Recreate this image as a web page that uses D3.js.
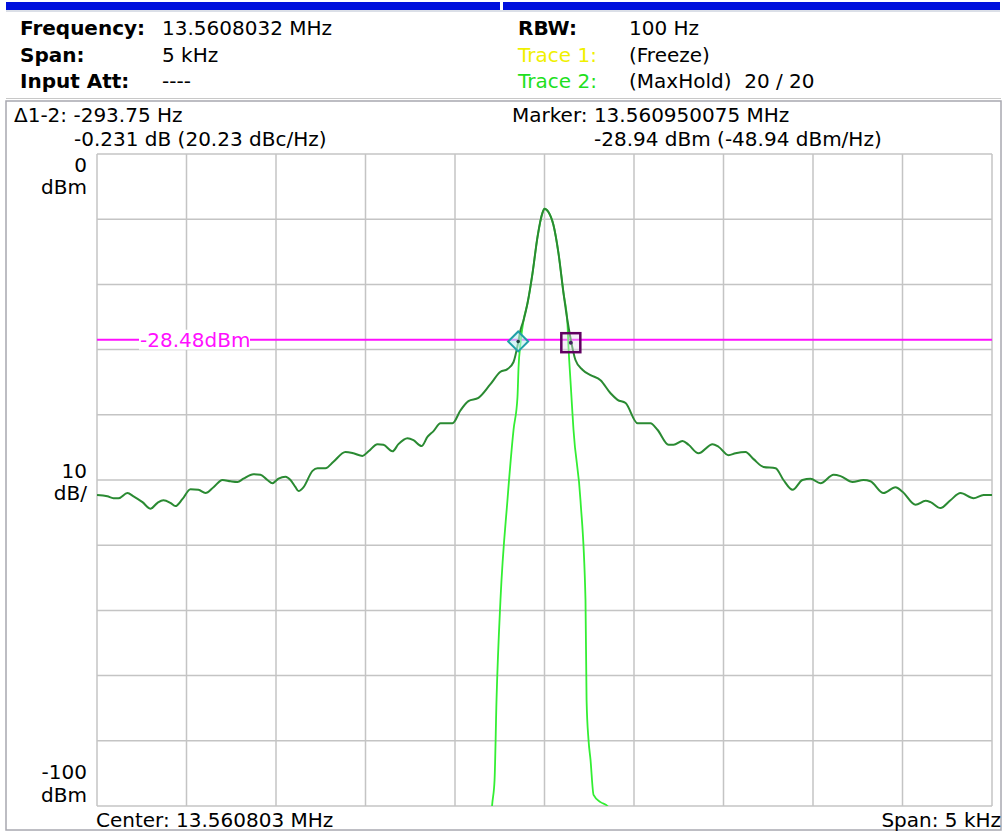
<!DOCTYPE html>
<html>
<head>
<meta charset="utf-8">
<script src="https://cdn.jsdelivr.net/npm/d3@7"></script>
<style>
  html, body { margin: 0; padding: 0; background: #fff; }
  svg { display: block; font-family: "DejaVu Sans", Verdana, sans-serif; }
  text { white-space: pre; }
</style>
</head>
<body>
<svg width="1002" height="833"></svg>
<script>
const darkFreq = [-2500,-2442,-2408,-2380,-2330,-2296,-2246,-2201,-2162,-2129,-2090,-2062,-2022,-1978,-1933,-1894,-1849,-1799,-1754,-1715,-1682,-1626,-1587,-1548,-1520,-1486,-1447,-1419,-1391,-1374,-1346,-1296,-1268,-1224,-1179,-1112,-1067,-1017,-983,-933,-900,-849,-816,-765,-732,-687,-654,-620,-581,-514,-469,-425,-369,-302,-246,-207,-173,-147,-134,-117,-95,-67,-39,-11,0,22,50,78,106,128,145,173,212,257,313,369,408,453,520,592,631,693,721,771,805,860,939,972,1028,1067,1123,1168,1224,1291,1335,1386,1441,1486,1542,1615,1654,1721,1782,1821,1894,1961,2000,2073,2129,2157,2212,2268,2324,2397,2453,2500];
const darkLevel = [-52.3,-52.5,-52.8,-52.8,-52.0,-52.5,-53.4,-54.4,-53.5,-53.1,-53.5,-54.0,-52.9,-51.4,-51.5,-52.0,-51.1,-50.0,-50.2,-50.3,-49.8,-49.1,-49.2,-50.0,-50.5,-49.8,-49.5,-50.0,-51.1,-51.7,-51.1,-48.6,-48.2,-48.2,-47.2,-45.7,-45.9,-46.3,-45.6,-44.5,-44.6,-45.6,-44.5,-43.6,-43.9,-44.8,-43.4,-42.5,-41.3,-41.3,-39.3,-37.9,-37.4,-35.3,-33.4,-33.0,-31.9,-28.9,-27.0,-25.5,-22.9,-18.3,-12.7,-9.0,-8.4,-8.9,-10.9,-15.2,-21.3,-25.5,-28.2,-31.6,-33.1,-33.9,-34.7,-36.7,-37.7,-38.2,-41.3,-41.3,-42.3,-44.6,-44.6,-44.0,-44.6,-45.9,-44.5,-44.9,-46.2,-45.9,-45.7,-46.8,-48.0,-48.2,-50.0,-51.5,-50.0,-49.8,-50.5,-49.2,-49.4,-50.3,-50.0,-50.2,-52.0,-51.1,-51.8,-53.8,-53.2,-53.4,-54.3,-53.1,-52.0,-52.8,-52.3,-52.3];

const brightFreq = [-300,-293,-279,-268,-246,-207,-173,-151,-145,-134,-117,-95,-67,-39,-11,0,22,50,78,106,128,134,145,156,162,201,229,235,246,257,274,313,352,370];
const brightLevel = [-103,-100,-96.0,-83.7,-68.4,-53.1,-42.3,-37.3,-32.7,-29.0,-25.5,-22.9,-18.3,-12.7,-9.0,-8.4,-8.9,-10.9,-15.2,-21.3,-25.9,-29.6,-34.7,-39.7,-42.3,-53.1,-68.4,-83.7,-89.9,-92.9,-98.3,-99.4,-100,-103];

const xTicks = [-2500,-2000,-1500,-1000,-500,0,500,1000,1500,2000,2500];
const yTicks = [0,-10,-20,-30,-40,-50,-60,-70,-80,-90,-100];
const lineLevel = -28.48;
const markerFreq = [-147, 147];
const markerLevel = [-28.75, -28.94];

const headerLeft = [["Frequency:", "13.5608032 MHz"], ["Span:", "5 kHz"], ["Input Att:", "----"]];
const headerRight = [["RBW:", "100 Hz", "#000"], ["Trace 1:", "(Freeze)", "#f0f000"], ["Trace 2:", "(MaxHold)  20 / 20", "#1ee01e"]];

const svg = d3.select("svg");

// barra blu in alto
svg.append("rect").attr("x", 6).attr("y", 2).attr("width", 494).attr("height", 8).attr("fill", "#0010dd");
svg.append("rect").attr("x", 503).attr("y", 2).attr("width", 497).attr("height", 8).attr("fill", "#0010dd");
svg.append("line").attr("x1", 6).attr("x2", 1000).attr("y1", 11).attr("y2", 11).attr("stroke", "#b8c0d0");

// intestazione
headerLeft.forEach((r, i) => {
  const yy = 35 + i * 26.5;
  svg.append("text").attr("x", 20).attr("y", yy).attr("font-size", 20).attr("font-weight", "bold").text(r[0]);
  svg.append("text").attr("x", 162).attr("y", yy).attr("font-size", 20).text(r[1]);
});
headerRight.forEach((r, i) => {
  const yy = 35 + i * 26.5;
  svg.append("text").attr("x", 518).attr("y", yy).attr("font-size", 20)
    .attr("font-weight", i == 0 ? "bold" : "normal").attr("fill", r[2]).text(r[0]);
  svg.append("text").attr("x", 629).attr("y", yy).attr("font-size", 20).text(r[1]);
});

// cornice
svg.append("rect").attr("x", 6).attr("y", 101).attr("width", 995).attr("height", 729)
  .attr("fill", "none").attr("stroke", "#a8a8b0").attr("stroke-width", 1.5);
svg.append("line").attr("x1", 6).attr("x2", 1001).attr("y1", 98.5).attr("y2", 98.5).attr("stroke", "#c8c8c8");

// info marker
const info = [[14, 122, "\u03941-2: -293.75 Hz"], [74, 146, "-0.231 dB (20.23 dBc/Hz)"],
              [512, 122, "Marker: 13.560950075 MHz"], [594, 146, "-28.94 dBm (-48.94 dBm/Hz)"]];
info.forEach(t => svg.append("text").attr("x", t[0]).attr("y", t[1]).attr("font-size", 20).text(t[2]));

// scale
const x = d3.scaleLinear().domain([-2500, 2500]).range([97, 992]);
const y = d3.scaleLinear().domain([-100, 0]).range([806, 154]);

// griglia
const grid = svg.append("g").attr("stroke", "#c4c4c4").attr("stroke-width", 1.5);
grid.selectAll(".v").data(xTicks).join("line")
  .attr("x1", d => x(d)).attr("x2", d => x(d)).attr("y1", y(0)).attr("y2", y(-100));
grid.selectAll(".h").data(yTicks).join("line")
  .attr("y1", d => y(d)).attr("y2", d => y(d)).attr("x1", x(-2500)).attr("x2", x(2500));

// etichette asse y
const yl = [[172, "0"], [194, "dBm"], [478, "10"], [500, "dB/"], [779, "-100"], [802, "dBm"]];
yl.forEach(t => svg.append("text").attr("x", 87).attr("y", t[0]).attr("font-size", 20)
  .attr("text-anchor", "end").text(t[1]));
svg.append("text").attr("x", 96).attr("y", 827).attr("font-size", 20).text("Center: 13.560803 MHz");
svg.append("text").attr("x", 1001).attr("y", 827).attr("font-size", 20).attr("text-anchor", "end").text("Span: 5 kHz");

svg.append("clipPath").attr("id", "clip").append("rect")
  .attr("x", x(-2500)).attr("y", y(0)).attr("width", x(2500) - x(-2500)).attr("height", y(-100) - y(0));

const line = d3.line().x(d => x(d[0])).y(d => y(d[1])).curve(d3.curveMonotoneX);
const plot = svg.append("g").attr("clip-path", "url(#clip)");

// linea di soglia
plot.append("line").attr("x1", x(-2500)).attr("x2", x(2500)).attr("y1", y(lineLevel)).attr("y2", y(lineLevel))
  .attr("stroke", "#ff10ff").attr("stroke-width", 2);
plot.append("rect").attr("x", 139).attr("y", y(lineLevel) - 10).attr("width", 111).attr("height", 20).attr("fill", "#fff");
plot.append("text").attr("x", 140).attr("y", 347).attr("font-size", 20).attr("fill", "#ff10ff").text("-28.48dBm");

// tracce
plot.append("path").datum(d3.zip(brightFreq, brightLevel)).attr("d", line)
  .attr("fill", "none").attr("stroke", "#33ee33").attr("stroke-width", 1.8);
plot.append("path").datum(d3.zip(darkFreq, darkLevel)).attr("d", line)
  .attr("fill", "none").attr("stroke", "#2a8a32").attr("stroke-width", 2);

// marker
const m1x = x(markerFreq[0]), m1y = y(markerLevel[0]);
svg.append("path").attr("d", `M${m1x},${m1y - 10}L${m1x + 10},${m1y}L${m1x},${m1y + 10}L${m1x - 10},${m1y}Z`)
  .attr("fill", "rgba(190,240,240,0.6)").attr("stroke", "#20a0a8").attr("stroke-width", 2);
svg.append("circle").attr("cx", m1x).attr("cy", m1y).attr("r", 1.8).attr("fill", "#204040");
const m2x = x(markerFreq[1]), m2y = y(markerLevel[1]);
svg.append("rect").attr("x", m2x - 9.5).attr("y", m2y - 9.5).attr("width", 19).attr("height", 19)
  .attr("fill", "rgba(230,220,240,0.4)").attr("stroke", "#600060").attr("stroke-width", 2.5);
svg.append("circle").attr("cx", m2x).attr("cy", m2y).attr("r", 2).attr("fill", "#402060");
</script>
</body>
</html>
